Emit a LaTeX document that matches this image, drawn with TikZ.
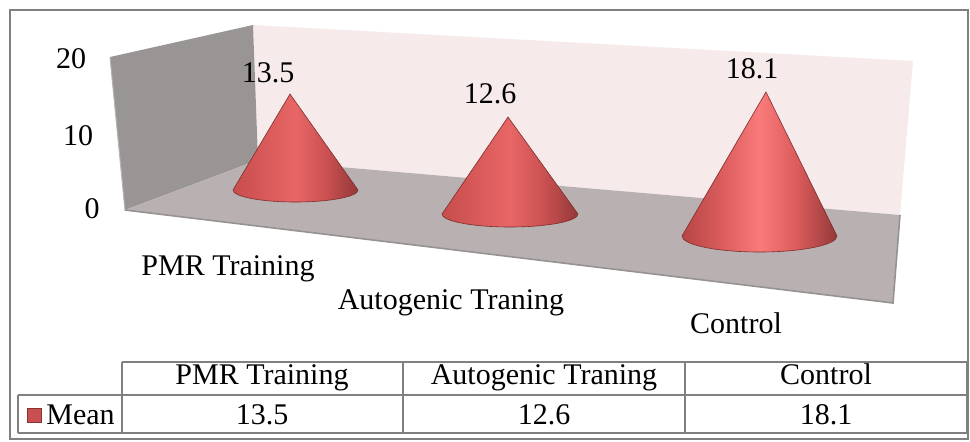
\documentclass[tikz,border=0pt]{standalone}
\usepackage{fontspec}
\setmainfont{Liberation Serif}
\definecolor{frameg}{RGB}{128,128,128}
\definecolor{backw}{RGB}{246,234,234}
\definecolor{leftw}{RGB}{154,149,149}
\definecolor{floorc}{RGB}{185,177,177}
\definecolor{edgeg}{RGB}{150,146,146}
\definecolor{legred}{RGB}{200,80,80}
\definecolor{legedge}{RGB}{140,50,50}
\pgfdeclarehorizontalshading{conered}{100bp}{rgb(0bp)=(0.78,0.30,0.30); rgb(25bp)=(0.78,0.30,0.30); rgb(40bp)=(0.86,0.36,0.36); rgb(50bp)=(0.91,0.40,0.40); rgb(62bp)=(0.80,0.32,0.32); rgb(75bp)=(0.58,0.22,0.22); rgb(100bp)=(0.58,0.22,0.22)}
\pgfdeclarehorizontalshading{conebright}{100bp}{rgb(0bp)=(0.72,0.27,0.27); rgb(25bp)=(0.72,0.27,0.27); rgb(40bp)=(0.88,0.38,0.38); rgb(50bp)=(0.98,0.48,0.48); rgb(62bp)=(0.86,0.36,0.36); rgb(75bp)=(0.58,0.22,0.22); rgb(100bp)=(0.58,0.22,0.22)}
\tikzset{
  txt/.style={inner sep=0pt, anchor=base, font=\fontsize{15pt}{18pt}\selectfont},
  gridline/.style={draw=frameg, line width=0.75pt},
  conepath/.style={draw=legedge!90!black, line width=0.3pt},
}
\begin{document}
\begin{tikzpicture}[x=0.5pt,y=-0.5pt]
\useasboundingbox (0,0) rectangle (970,441);
\fill[white] (0,0) rectangle (970,441);
% outer frame
\draw[gridline] (10,10) rectangle (968,439);
% walls and floor
\fill[backw] (253,25) -- (913,61) -- (900,215) -- (258,160) -- cycle;
\fill[leftw] (110,57) -- (253,25) -- (258,160) -- (125,210) -- cycle;
\draw[edgeg!70!white, line width=0.5pt] (110,57) -- (125,210);
\fill[floorc] (258,160) -- (900,215) -- (893,303) -- (125,210) -- cycle;
\draw[edgeg, line width=0.8pt] (125,210) -- (893,303) -- (900,215);
% axis labels
\node[txt] (y20) at (71,68) {20};
\node[txt] (y10) at (78,145) {10};
\node[txt] (y0) at (92,218) {0};
% cones
\path[shading=conered, conepath] (290,94) -- (233,190) arc[start angle=180, end angle=0, x radius=62.5, y radius=12] -- cycle;
\path[shading=conered, conepath] (508,117) -- (442,214) arc[start angle=180, end angle=0, x radius=68, y radius=13] -- cycle;
\path[shading=conebright, conepath] (766,92) -- (682,236) arc[start angle=180, end angle=0, x radius=77.5, y radius=16] -- cycle;
% data labels
\node[txt] (v1) at (268,82) {13.5};
\node[txt] (v2) at (490,103) {12.6};
\node[txt] (v3) at (752,78) {18.1};
% category labels
\node[txt] (c1) at (228,275) {PMR Training};
\node[txt] (c2) at (451,309) {Autogenic Traning};
\node[txt] (c3) at (736,333) {Control};
% table
\draw[gridline] (122,362) -- (967,362);
\draw[gridline] (18,395) -- (967,395);
\draw[gridline] (18,433) -- (967,433);
\draw[gridline] (18,395) -- (18,433);
\draw[gridline] (122,362) -- (122,433);
\draw[gridline] (403,362) -- (403,433);
\draw[gridline] (685,362) -- (685,433);
\draw[gridline] (967,362) -- (967,433);
\node[txt] (h1) at (262,384) {PMR Training};
\node[txt] (h2) at (544,384) {Autogenic Traning};
\node[txt] (h3) at (826,384) {Control};
\node[draw=legedge, fill=legred, line width=0.6pt, minimum size=7pt, inner sep=0pt] (leg) at (34.5,415.5) {};
\node[txt, anchor=base west] (mean) at (46,424) {Mean};
\node[txt] (d1) at (262,424) {13.5};
\node[txt] (d2) at (544,424) {12.6};
\node[txt] (d3) at (826,424) {18.1};
\end{tikzpicture}
\end{document}
